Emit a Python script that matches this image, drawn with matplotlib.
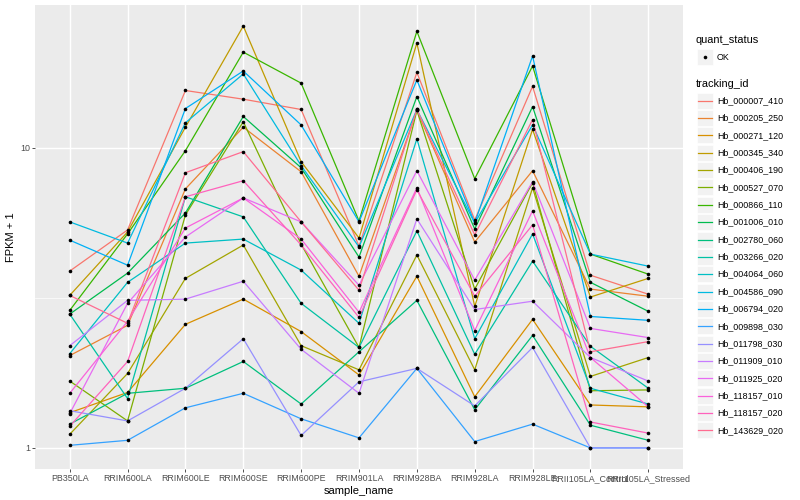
import matplotlib
matplotlib.use("Agg")
import matplotlib.pyplot as plt
from matplotlib.patches import Rectangle
from matplotlib.lines import Line2D
from matplotlib.ticker import FixedLocator, NullFormatter
import numpy as np

plt.rcParams["font.family"] = ["Liberation Sans", "DejaVu Sans"]

#-----------------------------------------------------------------------------#
# Data (FPKM + 1 per sample, one list per gene)
#-----------------------------------------------------------------------------#

samples = ["PB350LA", "RRIM600LA", "RRIM600LE", "RRIM600SE", "RRIM600PE",
           "RRIM901LA", "RRIM928BA", "RRIM928LA", "RRIM928LE",
           "RRII105LA_Control", "RRII105LA_Stressed"]

hb_000007_410 = [3.88, 5.32, 15.5, 14.5, 13.4, 4.70, 17.8, 5.74, 16.0, 3.76, 3.25]
hb_000205_250 = [2.03, 2.56, 7.29, 11.7, 8.31, 3.73, 13.3, 4.85, 8.38, 3.38, 3.20]
hb_000271_120 = [1.31, 1.53, 2.58, 3.13, 2.44, 1.75, 3.73, 1.48, 2.68, 1.39, 1.37]
hb_000345_340 = [3.22, 5.24, 11.7, 25.4, 8.98, 5.00, 22.3, 2.96, 11.5, 3.18, 3.67]
hb_000406_190 = [1.11, 1.77, 3.67, 4.74, 2.19, 1.82, 4.39, 1.82, 7.35, 1.73, 2.00]
hb_000527_070 = [1.67, 1.23, 5.97, 12.2, 4.77, 2.16, 13.3, 3.38, 7.64, 1.55, 1.56]
hb_000866_110 = [2.87, 5.16, 9.77, 20.8, 16.4, 5.70, 24.4, 7.88, 18.7, 4.42, 3.79]
hb_001006_010 = [2.79, 3.82, 6.06, 12.7, 8.57, 4.32, 14.8, 5.36, 13.7, 3.56, 2.85]
hb_002780_060 = [1.20, 1.52, 1.58, 1.94, 1.40, 2.09, 3.10, 1.34, 2.37, 1.19, 1.06]
hb_003266_020 = [2.79, 1.46, 6.86, 5.88, 3.03, 2.16, 5.28, 2.05, 4.19, 2.18, 1.58]
hb_004064_060 = [2.06, 3.56, 4.81, 4.96, 3.91, 2.60, 10.7, 2.31, 5.16, 1.58, 1.40]
hb_004586_090 = [5.66, 4.81, 12.1, 17.6, 8.71, 4.67, 13.4, 5.61, 11.9, 4.42, 4.03]
hb_006794_020 = [4.92, 4.06, 13.5, 18.0, 11.9, 5.66, 16.8, 5.61, 20.2, 2.74, 2.66]
hb_009898_030 = [1.02, 1.06, 1.36, 1.52, 1.25, 1.08, 1.84, 1.05, 1.20, 1.00, 1.00]
hb_011798_030 = [1.33, 1.23, 1.58, 2.31, 1.10, 1.66, 1.84, 1.38, 2.16, 1.00, 1.00]
hb_011909_010 = [2.19, 3.10, 3.13, 3.59, 2.13, 1.52, 5.79, 2.89, 3.08, 2.00, 1.67]
hb_011925_020 = [1.30, 3.03, 5.04, 6.80, 5.66, 3.48, 8.38, 3.62, 7.70, 2.50, 2.33]
hb_118157_010 = [1.52, 2.64, 5.40, 6.80, 4.96, 2.83, 7.35, 2.46, 6.16, 2.00, 1.37]
hb_118157_020 = [1.18, 1.94, 6.86, 7.76, 4.74, 2.72, 7.24, 3.20, 5.53, 1.22, 1.12]
hb_143629_020 = [3.22, 2.60, 8.25, 9.70, 5.66, 3.35, 13.4, 5.12, 12.4, 2.09, 2.26]

tracking_ids = ["Hb_000007_410", "Hb_000205_250", "Hb_000271_120", "Hb_000345_340",
                "Hb_000406_190", "Hb_000527_070", "Hb_000866_110", "Hb_001006_010",
                "Hb_002780_060", "Hb_003266_020", "Hb_004064_060", "Hb_004586_090",
                "Hb_006794_020", "Hb_009898_030", "Hb_011798_030", "Hb_011909_010",
                "Hb_011925_020", "Hb_118157_010", "Hb_118157_020", "Hb_143629_020"]

series = [hb_000007_410, hb_000205_250, hb_000271_120, hb_000345_340,
          hb_000406_190, hb_000527_070, hb_000866_110, hb_001006_010,
          hb_002780_060, hb_003266_020, hb_004064_060, hb_004586_090,
          hb_006794_020, hb_009898_030, hb_011798_030, hb_011909_010,
          hb_011925_020, hb_118157_010, hb_118157_020, hb_143629_020]

# ggplot default hue palette for 20 levels
colors = ["#F8766D", "#EA8331", "#D89000", "#C09B00", "#A3A500", "#7CAE00",
          "#39B600", "#00BB4E", "#00BF7D", "#00C1A3", "#00BFC4", "#00BAE0",
          "#00B0F6", "#35A2FF", "#9590FF", "#C77CFF", "#E76BF3", "#FA62DB",
          "#FF62BC", "#FF6C91"]

#-----------------------------------------------------------------------------#

W, H = 800, 500
fig = plt.figure(figsize=(W / 100, H / 100), dpi=100)
ax = fig.add_axes([35 / W, 31 / H, 648 / W, 464 / H])
ax.set_facecolor("#EBEBEB")
for sp in ax.spines.values():
    sp.set_visible(False)

x = np.arange(len(samples))
for vals, c in zip(series, colors):
    ax.plot(x, vals, color=c, lw=0.9, zorder=2)
for vals in series:
    ax.plot(x, vals, "o", color="black", ms=2.6, mew=0, zorder=3)

# log scale with ggplot-like 5% expansion
ax.set_yscale("log")
lo = np.log10(min(min(s) for s in series))
hi = np.log10(max(max(s) for s in series))
pad = 0.05 * (hi - lo)
ax.set_ylim(10 ** (lo - pad), 10 ** (hi + pad))
ax.set_xlim(-0.6, len(samples) - 0.4)

ax.yaxis.set_major_locator(FixedLocator([1, 10]))
ax.set_yticklabels(["1", "10"])
ax.yaxis.set_minor_locator(FixedLocator([10 ** 0.5]))
ax.yaxis.set_minor_formatter(NullFormatter())
ax.set_xticks(x)
ax.set_xticklabels(samples)

ax.grid(which="major", color="white", lw=1.05, zorder=0)
ax.grid(which="minor", axis="y", color="white", lw=0.5, zorder=0)
ax.set_axisbelow(True)
ax.tick_params(which="major", length=2.2, width=0.6, color="#333333",
               labelsize=6.4, labelcolor="#4D4D4D", pad=1.5)
ax.tick_params(which="minor", length=0)

ax.set_xlabel("sample_name", fontsize=8, labelpad=2)
ax.set_ylabel("FPKM + 1", fontsize=8, labelpad=3)

#-----------------------------------------------------------------------------#
# Legends (ggplot style keys), positions in pixels from the top-left corner
#-----------------------------------------------------------------------------#

def fx(px):
    return px / W

def fy(py):
    return 1 - py / H

key_x, key_w, key_h = 697, 16, 16

fig.text(fx(696), fy(40), "quant_status", fontsize=7.9, va="center", ha="left")
fig.patches.append(Rectangle((fx(key_x), fy(57 + key_h / 2)), key_w / W, key_h / H,
                             transform=fig.transFigure, facecolor="#F2F2F2",
                             edgecolor="white", lw=0.5))
fig.lines.append(Line2D([fx(key_x + key_w / 2)], [fy(57)], marker="o", ms=2.6,
                        mew=0, color="black", transform=fig.transFigure))
fig.text(fx(717), fy(57), "OK", fontsize=6.4, va="center", ha="left")

fig.text(fx(696), fy(84), "tracking_id", fontsize=7.9, va="center", ha="left")
step = 17.35
for i, (name, c) in enumerate(zip(tracking_ids, colors)):
    cy = 100.7 + i * step
    fig.patches.append(Rectangle((fx(key_x), fy(cy + key_h / 2)), key_w / W, key_h / H,
                                 transform=fig.transFigure, facecolor="#F2F2F2",
                                 edgecolor="white", lw=0.5))
    fig.lines.append(Line2D([fx(key_x + 1), fx(key_x + key_w - 1)], [fy(cy), fy(cy)],
                            color=c, lw=0.9, transform=fig.transFigure))
    fig.text(fx(717), fy(cy), name, fontsize=6.4, va="center", ha="left")

fig.savefig("out.png", dpi=100, facecolor="white")
